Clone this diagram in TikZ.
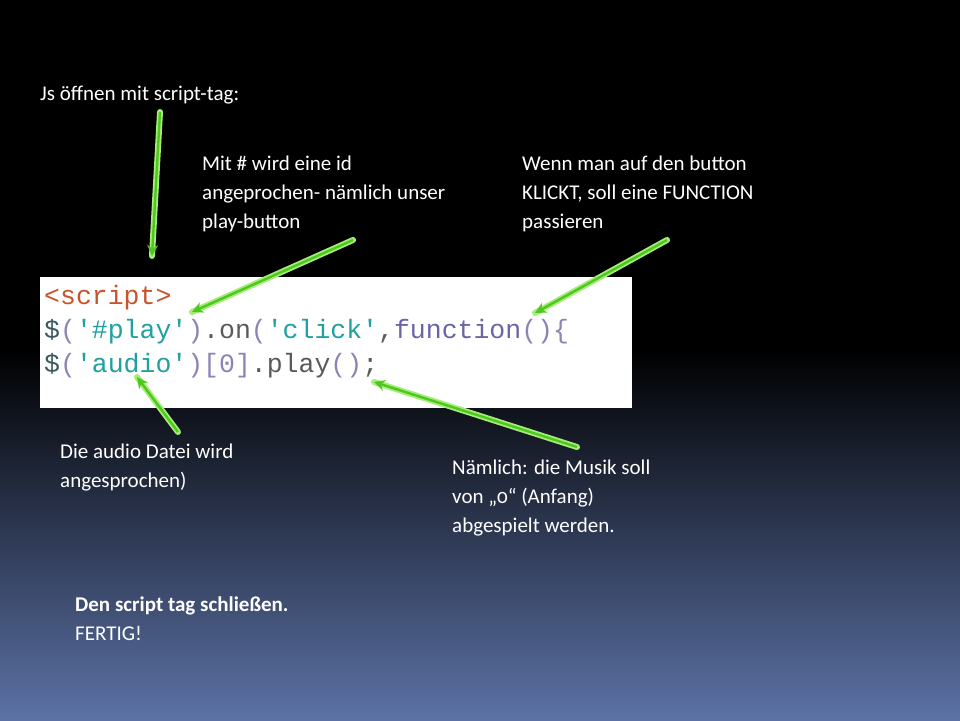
\documentclass[tikz,border=0pt]{standalone}
\usepackage{fontspec}
\setmainfont{Carlito}[Numbers=OldStyle]
\newfontfamily\codefont{Liberation Mono}
\usetikzlibrary{arrows.meta}
\definecolor{bgblue}{HTML}{5C72A6}
\definecolor{tagc}{HTML}{C8532C}
\definecolor{strc}{HTML}{21A0A0}
\definecolor{parc}{HTML}{8A84B8}
\definecolor{fnc}{HTML}{6A64A8}
\definecolor{dollc}{HTML}{3A5A60}
\definecolor{grc}{HTML}{5A5A5A}
\definecolor{glow}{HTML}{A6EC78}
\definecolor{arr}{HTML}{4CC81E}
\tikzset{
 lbl/.style={text=white,anchor=base west,align=left,font=\fontsize{21}{29}\selectfont,inner sep=0pt},
 codeline/.style={anchor=base west,inner sep=0pt,font=\codefont\fontsize{26.5}{32}\selectfont},
 glowline/.style={line width=6pt,glow,line cap=round},
 arrline/.style={line width=2.4pt,arr,-{Stealth[length=11pt,width=11pt]}},
}
\begin{document}
\begin{tikzpicture}[x=1pt,y=-1pt]
\useasboundingbox (0,0) rectangle (960,720);
\fill[black] (0,0) rectangle (960,720);
\shade[top color=black,bottom color=bgblue] (0,350) rectangle (960,720);
\node[fill=white,minimum width=592pt,minimum height=131pt,anchor=north west,inner sep=0pt] (img) at (40,277) {};
\node[codeline] (c1) at (44,304) {\textcolor{tagc}{<script>}};
\node[codeline] (c2) at (44,338) {\textcolor{dollc}{\$}\textcolor{parc}{(}\textcolor{strc}{'\#play'}\textcolor{parc}{)}\textcolor{grc}{.on}\textcolor{parc}{(}\textcolor{strc}{'click'}\textcolor{grc}{,}\textcolor{fnc}{function}\textcolor{parc}{()\{}};
\node[codeline] (c3) at (44,372) {\textcolor{dollc}{\$}\textcolor{parc}{(}\textcolor{strc}{'audio'}\textcolor{parc}{)[0]}\textcolor{grc}{.play}\textcolor{parc}{()}\textcolor{grc}{;}};
\node[lbl] (t1) at (40,100) {Js öffnen mit script-tag:};
\node[lbl,anchor=north west] (t2) at (202,156) {Mit \# wird eine id\\angeprochen- nämlich unser\\play-button};
\node[lbl,anchor=north west] (t3) at (522,156) {Wenn man auf den button\\KLICKT, soll eine FUNCTION\\passieren};
\node[lbl,anchor=north west] (t4) at (60,444) {Die audio Datei wird\\angesprochen)};
\node[lbl,anchor=north west] (t5) at (452,460) {Nämlich: die Musik soll\\von „0“ (Anfang)\\abgespielt werden.};
\node[lbl,anchor=north west] (t6) at (75,597) {\textbf{Den script tag schließen.}\\FERTIG!};
\coordinate (a1s) at (160,112); \coordinate (a1e) at (152,256);
\coordinate (a2s) at (353,240); \coordinate (a2e) at (192,312);
\coordinate (a3s) at (667,240); \coordinate (a3e) at (535,313);
\coordinate (a4s) at (178,432); \coordinate (a4e) at (137,377);
\coordinate (a5s) at (577,447); \coordinate (a5e) at (374,382);
\foreach \a in {1,...,5}{
 \draw[glowline] (a\a s) -- (a\a e);
 \draw[arrline] (a\a s) -- (a\a e);
}
\end{tikzpicture}
\end{document}
